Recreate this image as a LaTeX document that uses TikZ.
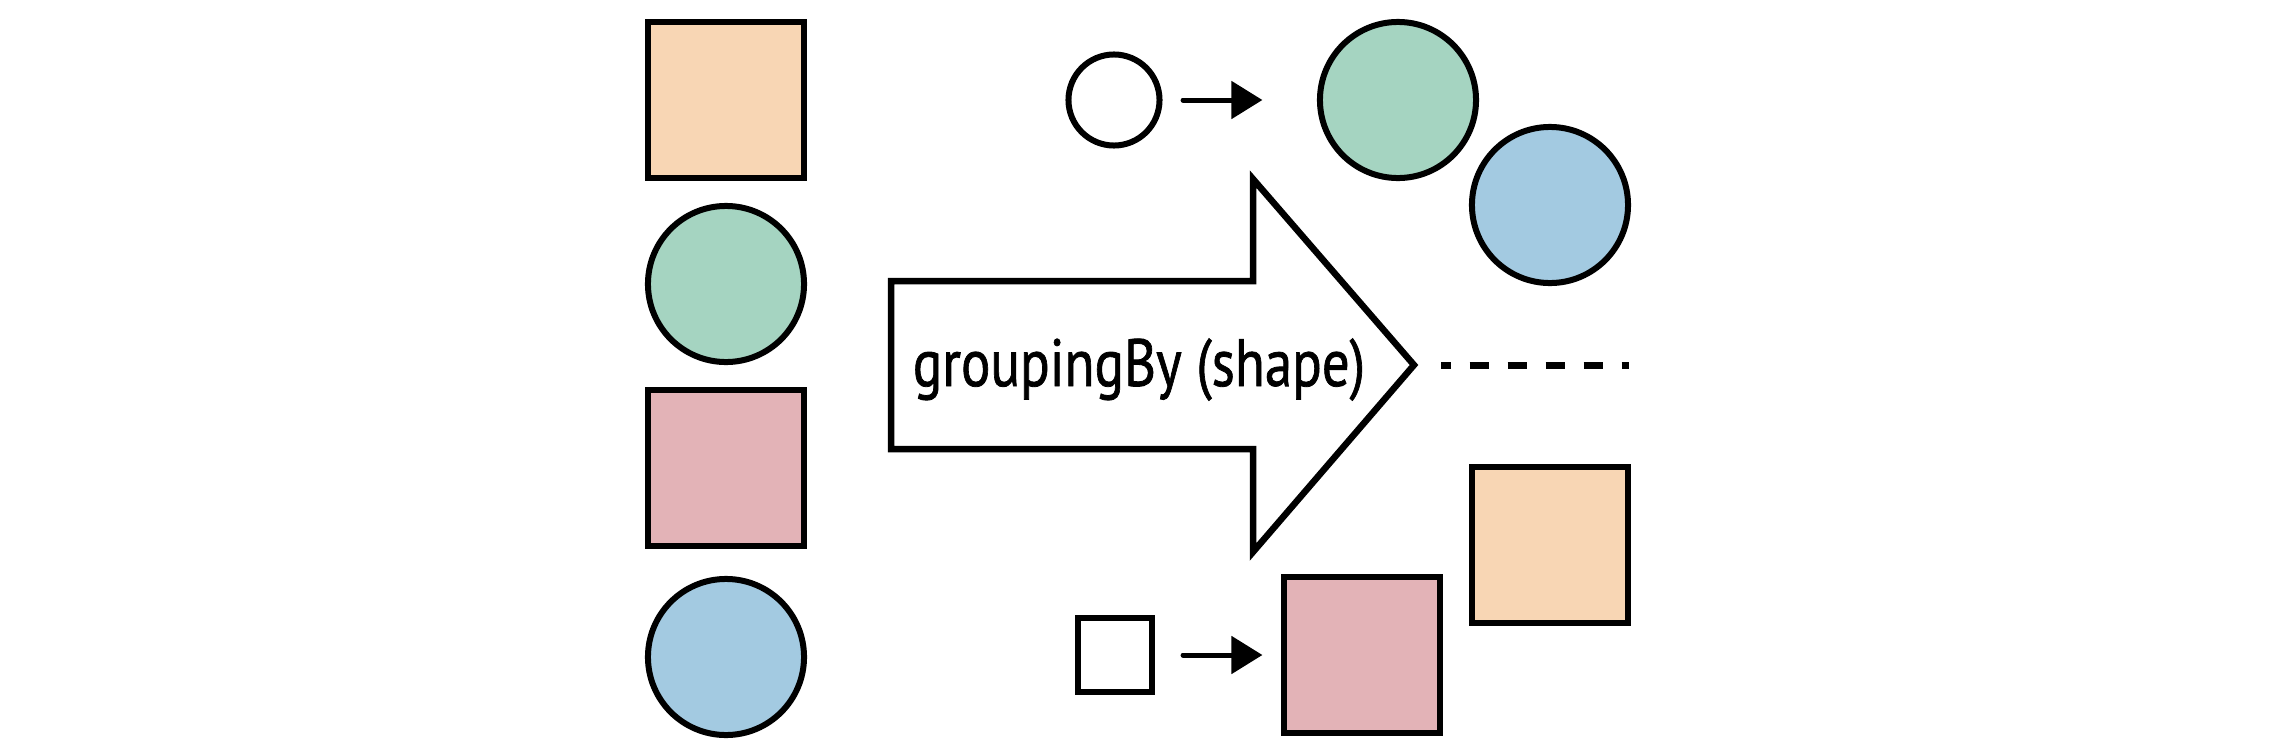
\documentclass[tikz,border=0pt]{standalone}
\usepackage{fontspec}
\setmainfont{PT Sans}
\newfontfamily\lblfont{PT Sans}[FakeBold=1.2]
\usetikzlibrary{arrows.meta}
\definecolor{cOrange}{RGB}{248,214,180}
\definecolor{cGreen}{RGB}{165,212,193}
\definecolor{cPink}{RGB}{227,179,183}
\definecolor{cBlue}{RGB}{163,202,225}
\begin{document}
\begin{tikzpicture}[x=0.01cm,y=-0.01cm,
  shp/.style={draw=black, line width=0.06cm, inner sep=0pt, outer sep=0pt},
  bigsq/.style={shp, rectangle, minimum size=1.56cm},
  bigci/.style={shp, circle, minimum size=1.56cm},
  conn/.style={line width=0.05cm, line cap=round, -{Triangle[length=0.31cm,width=0.37cm]}},
  bigarrow/.style={draw=black, line width=0.065cm, line join=miter, fill=white},
  dashline/.style={line width=0.07cm, dash pattern=on 0.19cm off 0.19cm, dash phase=0.095cm}
]
\path[use as bounding box] (0,0) rectangle (2274,754);

% left column
\node[bigsq, fill=cOrange] (l1) at (726,100) {};
\node[bigci, fill=cGreen]  (l2) at (726,284) {};
\node[bigsq, fill=cPink]   (l3) at (726,468) {};
\node[bigci, fill=cBlue]   (l4) at (726,657) {};

% big arrow
\draw[bigarrow] (891,281) -- (1253,281) -- (1253,179) -- (1414,365) -- (1253,552) -- (1253,449) -- (891,449) -- cycle;
\node[anchor=base, inner sep=0pt] (lbl) at (1139,386)
  {\resizebox{4.52cm}{\height}{\fontsize{19}{22}\lblfont groupingBy (shape)}};

% top group
\node[shp, circle, fill=white, minimum size=0.91cm] (c0) at (1114,100) {};
\node[bigci, fill=cGreen] (g1) at (1398,100) {};
\node[bigci, fill=cBlue]  (g2) at (1550,205) {};
\draw[conn, shorten <=0.235cm, shorten >=0.575cm] (c0) -- (g1);

% dashed separator
\coordinate (d1) at (1441,365);
\coordinate (d2) at (1629,365);
\draw[dashline] (d1) -- (d2);

% bottom group
\node[shp, rectangle, fill=white, minimum size=0.74cm] (s0) at (1115,655) {};
\node[bigsq, fill=cPink]   (p1) at (1362,655) {};
\node[bigsq, fill=cOrange] (p2) at (1550,545) {};
\draw[conn, shorten <=0.31cm, shorten >=0.215cm] (s0) -- (p1);
\end{tikzpicture}
\end{document}
